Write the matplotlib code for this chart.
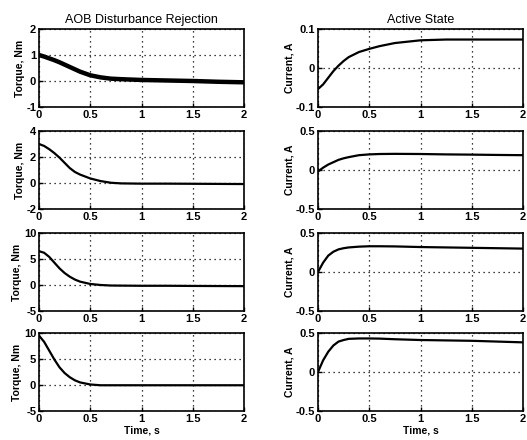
import matplotlib
matplotlib.use("Agg")
import matplotlib.pyplot as plt

plt.rcParams['font.family'] = ['Liberation Sans', 'DejaVu Sans']

# time samples (s)
t_torque = [0.0, 0.05, 0.1, 0.15, 0.2, 0.25, 0.3, 0.35, 0.4, 0.5, 0.6, 0.7, 0.8, 1.0, 1.25, 1.5, 1.75, 2.0]
t_current = [0.0, 0.05, 0.1, 0.15, 0.2, 0.25, 0.3, 0.4, 0.5, 0.6, 0.75, 1.0, 1.25, 1.5, 1.75, 2.0]

# torque, Nm (left column)
torque_1 = [1.0, 0.94, 0.87, 0.8, 0.72, 0.63, 0.54, 0.45, 0.36, 0.22, 0.14, 0.09, 0.07, 0.04, 0.02, 0.0, -0.03, -0.05]
torque_2 = [3.0, 2.85, 2.6, 2.3, 1.95, 1.55, 1.15, 0.85, 0.65, 0.35, 0.15, 0.02, -0.03, -0.05, -0.05, -0.06, -0.07, -0.08]
torque_3 = [6.5, 6.2, 5.4, 4.3, 3.2, 2.3, 1.6, 1.05, 0.65, 0.2, 0.0, -0.1, -0.12, -0.15, -0.15, -0.18, -0.2, -0.22]
torque_4 = [9.5, 8.3, 6.6, 4.9, 3.4, 2.3, 1.5, 0.9, 0.5, 0.1, -0.05, -0.05, -0.05, -0.05, -0.05, -0.05, -0.05, -0.05]

# current, A (right column)
current_1 = [-0.054, -0.042, -0.025, -0.008, 0.006, 0.018, 0.028, 0.041, 0.049, 0.056, 0.064, 0.071, 0.073, 0.073, 0.073, 0.073]
current_2 = [-0.02, 0.03, 0.07, 0.1, 0.13, 0.15, 0.165, 0.19, 0.2, 0.205, 0.207, 0.205, 0.2, 0.197, 0.193, 0.19]
current_3 = [0.0, 0.12, 0.21, 0.26, 0.29, 0.305, 0.315, 0.325, 0.33, 0.33, 0.328, 0.32, 0.315, 0.31, 0.305, 0.3]
current_4 = [0.0, 0.15, 0.26, 0.34, 0.39, 0.41, 0.425, 0.43, 0.43, 0.428, 0.42, 0.41, 0.405, 0.4, 0.39, 0.38]

torque_series = [torque_1, torque_2, torque_3, torque_4]
current_series = [current_1, current_2, current_3, current_4]
torque_ylim = [(-1, 2), (-2, 4), (-5, 10), (-5, 10)]
torque_yticks = [[-1, 0, 1, 2], [-2, 0, 2, 4], [-5, 0, 5, 10], [-5, 0, 5, 10]]
current_ylim = [(-0.1, 0.1), (-0.5, 0.5), (-0.5, 0.5), (-0.5, 0.5)]
current_yticks = [[-0.1, 0, 0.1], [-0.5, 0, 0.5], [-0.5, 0, 0.5], [-0.5, 0, 0.5]]
xticks = [0, 0.5, 1, 1.5, 2]
xticklabels = ['0', '0.5', '1', '1.5', '2']


W, H = 527, 440
fig = plt.figure(figsize=(W / 100, H / 100), dpi=100)

lefts = [39, 318]
width = 205
tops = [29, 131, 233, 333]
height = 78

for i in range(4):
    for col in range(2):
        ax = fig.add_axes([lefts[col] / W, 1 - (tops[i] + height) / H, width / W, height / H])
        if col == 0:
            ax.plot(t_torque, torque_series[i], color='black', lw=3.2 if i == 0 else 1.6)
            ax.set_ylim(*torque_ylim[i])
            ax.set_yticks(torque_yticks[i])
            ax.set_yticklabels(['%g' % v for v in torque_yticks[i]])
            ax.set_ylabel('Torque, Nm', fontsize=7.5, fontweight='bold', labelpad=1)
        else:
            ax.plot(t_current, current_series[i], color='black', lw=1.6)
            ax.set_ylim(*current_ylim[i])
            ax.set_yticks(current_yticks[i])
            ax.set_yticklabels(['%g' % v for v in current_yticks[i]])
            ax.set_ylabel('Current, A', fontsize=7.5, fontweight='bold', labelpad=1)
        ax.set_xlim(0, 2)
        ax.set_xticks(xticks)
        ax.set_xticklabels(xticklabels)
        ax.grid(True, linestyle=(0, (1, 3)), color='black', linewidth=0.9)
        ax.tick_params(direction='in', length=3, labelsize=8, pad=2, width=1)
        for lab in ax.get_xticklabels() + ax.get_yticklabels():
            lab.set_fontweight('bold')
        for sp in ax.spines.values():
            sp.set_linewidth(1.2)
        if i == 0:
            ax.set_title('AOB Disturbance Rejection' if col == 0 else 'Active State', fontsize=9, pad=4)
        if i == 3:
            ax.set_xlabel('Time, s', fontsize=7.5, fontweight='bold', labelpad=1)

fig.savefig('out.png', dpi=100)
